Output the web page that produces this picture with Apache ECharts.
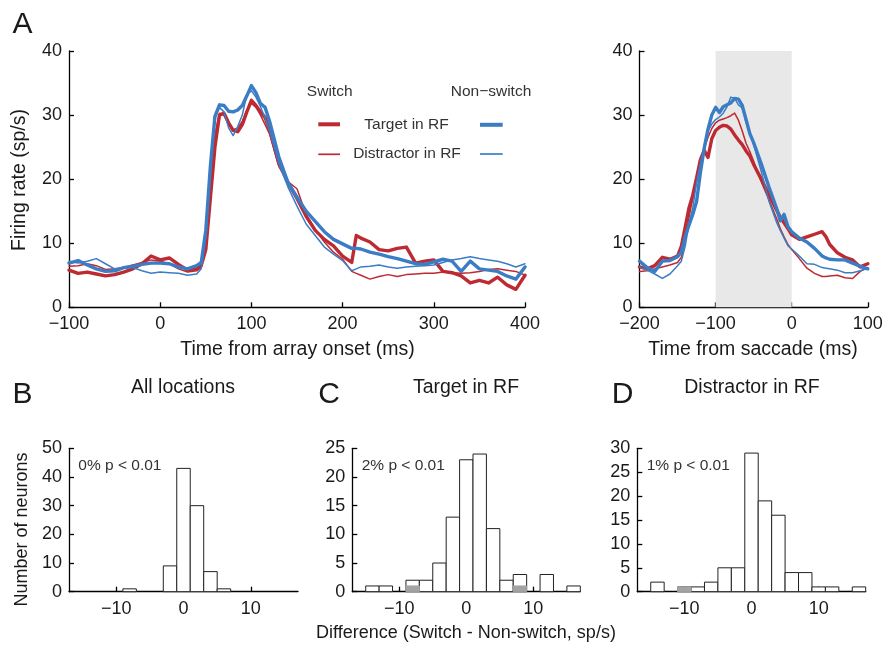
<!DOCTYPE html>
<html><head><meta charset="utf-8">
<script src="https://cdn.jsdelivr.net/npm/echarts@6/dist/echarts.min.js"></script>
<style>html,body{margin:0;padding:0;background:#fff}#c{width:883px;height:646px}</style>
</head><body><div id="c"></div>
<script>
// ---------- Panel A (left): time from array onset ----------
const tOnset = [-100,-90,-80,-70,-60,-50,-40,-30,-20,-10,0,10,20,30,40,45,50,55,60,65,70,75,80,85,90,95,100,105,110,115,120,130,140,150,160,170,180,190,200,210,215,220,230,240,250,260,270,280,290,300,310,320,330,340,350,360,370,380,390,400];
const onsetSwitchTarget = [5.8,5.3,5.5,5.2,4.9,5.1,5.5,6.0,6.8,8.0,7.4,7.7,6.7,5.8,6.0,6.5,9.0,17.0,25.0,30.0,30.3,28.8,27.6,27.4,28.5,30.5,32.3,31.5,30.5,29.6,27.7,22.5,19.5,17.0,14.2,12.0,10.6,9.6,8.0,7.0,11.2,10.8,10.2,9.0,8.8,9.2,9.4,6.9,7.2,7.4,5.6,5.4,4.9,3.8,4.2,3.8,4.7,3.5,2.8,5.0];
const onsetSwitchDistr = [6.4,6.5,6.8,6.5,5.9,6.0,6.2,6.6,7.0,7.4,7.2,6.8,6.0,5.5,5.7,6.2,10.0,19.0,27.0,30.3,30.0,28.5,27.7,28.0,29.0,30.8,31.8,31.2,30.0,28.5,27.0,22.0,19.6,18.5,14.5,12.2,10.2,8.6,7.5,5.6,5.3,5.0,4.4,4.8,5.1,4.8,5.1,5.2,5.3,5.3,5.5,5.4,5.3,5.4,5.6,5.9,6.0,5.8,5.6,5.0];
const onsetNonTarget = [6.9,7.3,6.6,6.0,5.6,5.7,6.2,6.4,6.7,6.9,6.9,6.8,6.3,6.0,6.5,7.0,12.0,22.0,29.8,31.6,31.5,30.6,30.5,30.8,31.5,33.0,34.6,33.5,31.8,31.2,29.0,23.5,19.5,17.2,15.0,13.4,11.8,10.6,9.9,9.2,9.2,9.1,8.6,8.3,7.9,7.6,7.2,6.8,6.7,7.1,7.5,7.2,5.6,7.2,6.0,5.8,5.6,4.9,4.4,6.3];
const onsetNonDistr = [7.2,6.9,7.2,7.6,6.8,6.0,6.1,6.2,5.7,5.3,5.5,5.4,5.3,5.0,5.2,6.0,11.0,21.0,29.5,31.2,30.5,28.0,26.8,28.2,30.0,33.2,33.8,32.8,31.3,29.5,27.5,22.5,18.8,15.8,13.0,11.2,9.4,8.3,7.3,5.7,6.0,6.3,6.4,6.6,6.3,6.1,6.3,6.4,6.5,6.6,7.0,7.4,7.6,7.9,7.6,7.4,7.2,6.8,6.3,6.8];

// ---------- Panel A (right): time from saccade ----------
const tSacc = [-200,-190,-180,-170,-160,-150,-145,-140,-135,-130,-125,-120,-115,-110,-105,-100,-95,-90,-85,-80,-75,-70,-65,-60,-55,-50,-40,-30,-20,-15,-10,-5,0,10,20,30,40,45,50,60,70,80,90,100];
const saccSwitchTarget = [6.3,6.0,6.5,7.8,7.5,8.0,9.5,12.5,15.5,17.5,20.2,23.0,24.5,23.4,26.3,27.6,28.1,28.4,28.3,27.8,26.9,26.1,25.4,24.4,23.6,22.3,20.0,17.6,15.2,14.1,13.2,12.3,11.3,10.6,11.0,11.4,11.8,11.0,9.8,8.5,7.8,7.4,6.3,6.8];
const saccSwitchDistr = [5.6,5.7,6.0,6.3,6.6,7.0,7.8,10.5,14.0,17.0,19.9,22.2,24.8,26.5,27.9,28.8,29.2,29.4,29.6,29.9,30.3,29.2,27.5,25.6,24.3,22.8,19.6,16.8,13.9,12.3,11.0,9.8,9.0,7.6,6.1,5.3,4.8,4.8,4.9,5.0,4.6,4.5,5.6,6.2];
const saccNonTarget = [7.2,6.2,5.6,7.2,7.3,7.9,8.6,11.0,12.8,14.5,16.5,21.0,24.8,27.8,30.0,31.2,30.4,31.3,31.6,31.9,32.6,32.5,31.5,29.3,27.1,25.7,22.4,18.8,15.5,13.5,14.5,12.6,11.8,10.8,10.2,9.2,8.0,7.7,7.5,7.4,7.4,6.9,6.4,6.0];
const saccNonDistr = [6.3,5.8,5.2,4.5,5.2,6.5,7.2,9.5,13.0,15.5,19.5,22.5,24.8,27.5,28.6,29.3,29.7,30.3,31.3,32.8,32.6,31.6,31.1,28.9,27.0,25.4,21.2,16.6,13.3,12.0,10.8,9.6,9.1,8.0,6.8,6.7,6.2,6.1,6.0,5.8,5.4,5.4,5.7,6.1];
const saccWindow = [-100, 0];

// ---------- Histograms (bin centres, bin width 2) ----------
const binWidth = 2;
const binsAll = [-8,-2,0,2,4,6];
const countsAll = [1,9,43,30,7,1];
const binsTarget = [-14,-12,-8,-6,-4,-2,0,2,4,6,8,12,16];
const countsTarget = [1,1,2,2,5,13,23,24,11,2,3,3,1];
const sigTargetBins = [-8,8];
const sigTargetCounts = [1,1];
const binsDistr = [-14,-10,-8,-6,-4,-2,0,2,4,6,8,10,12,16];
const countsDistr = [2,1,1,2,5,5,29,19,16,4,4,1,1,1];
const sigDistrBins = [-10];
const sigDistrCounts = [1];
const histXTicks = [-10,0,10];

const RED = '#be2a31', BLUE = '#3b7dc5';
const FONT = '"Liberation Sans", Arial, Helvetica, sans-serif';
const TXT = '#1a1a1a';
const fmt = v => String(v).replace('-', '\u2212');
const zip = (xs, ys) => xs.map((x, i) => [x, ys[i]]);

const axisCommon = {
  axisLine: {show: true, onZero: false, lineStyle: {color: '#000', width: 1.3}},
  axisTick: {show: true, inside: true, length: 5, lineStyle: {color: '#000', width: 1.3}},
  splitLine: {show: false},
  axisLabel: {color: TXT, fontSize: 18, fontFamily: FONT, margin: 8, showMinLabel: true, showMaxLabel: true}
};
function xAx(grid, min, max, interval, custom) {
  const a = Object.assign({type: 'value', gridIndex: grid, min, max, interval}, JSON.parse(JSON.stringify(axisCommon)));
  a.axisLabel.formatter = fmt;
  if (custom) { a.axisTick.customValues = custom; a.axisLabel.customValues = custom; delete a.interval; }
  return a;
}
function yAx(grid, min, max, interval) {
  const a = Object.assign({type: 'value', gridIndex: grid, min, max, interval}, JSON.parse(JSON.stringify(axisCommon)));
  a.axisLabel.formatter = fmt;
  a.axisLabel.margin = 7;
  return a;
}

function lineSeries(name, x, y, xi, color, width) {
  return {type: 'line', name, xAxisIndex: xi, yAxisIndex: xi, data: zip(x, y), showSymbol: false, symbol: 'none',
    lineStyle: {color, width, cap: 'round', join: 'round'}, itemStyle: {color}, silent: true, animation: false, z: 3};
}
function histSeries(xi, bins, counts, fill, stroke) {
  return {type: 'custom', xAxisIndex: xi, yAxisIndex: xi, data: zip(bins, counts), encode: {x: 0, y: 1}, silent: true, animation: false, z: 3,
    renderItem: (params, api) => {
      const c = api.value(0), n = api.value(1);
      const p0 = api.coord([c - binWidth / 2, n]);
      const p1 = api.coord([c + binWidth / 2, 0]);
      return {type: 'rect', shape: {x: p0[0], y: p0[1], width: p1[0] - p0[0], height: p1[1] - p0[1]},
        style: {fill, stroke, lineWidth: 1}};
    }};
}

function txt(text, x, y, size, extra) {
  return {type: 'text', x, y, silent: true, z: 10, rotation: (extra && extra.rotation) || 0,
    style: {text, fontSize: size, fontFamily: FONT, fill: (extra && extra.fill) || TXT,
      align: (extra && extra.align) || 'center', verticalAlign: 'middle'}};
}
function seg(x1, x2, y, color, w) {
  return {type: 'line', shape: {x1, y1: y, x2, y2: y}, style: {stroke: color, lineWidth: w}, silent: true, z: 10};
}

const chart = echarts.init(document.getElementById('c'), null, {renderer: 'canvas'});
chart.setOption({
  backgroundColor: '#fff',
  animation: false,
  grid: [
    {left: 69, top: 51, width: 456, height: 256.3, outerBoundsMode: 'none'},
    {left: 639.5, top: 51, width: 228.3, height: 256.3, outerBoundsMode: 'none'},
    {left: 69, top: 448.3, width: 229, height: 143.4, outerBoundsMode: 'none'},
    {left: 352.3, top: 448.3, width: 228, height: 143.4, outerBoundsMode: 'none'},
    {left: 637.3, top: 448.3, width: 228.4, height: 143.4, outerBoundsMode: 'none'}
  ],
  xAxis: [
    xAx(0, -100, 400, 100),
    xAx(1, -200, 100, 100),
    xAx(2, -17, 17, 10, histXTicks),
    xAx(3, -17, 17, 10, histXTicks),
    xAx(4, -17, 17, 10, histXTicks)
  ],
  yAxis: [
    yAx(0, 0, 40, 10),
    yAx(1, 0, 40, 10),
    yAx(2, 0, 50, 10),
    yAx(3, 0, 25, 5),
    yAx(4, 0, 30, 5)
  ],
  series: [
    {type: 'line', xAxisIndex: 1, yAxisIndex: 1, data: [[saccWindow[0], 0]], showSymbol: false, lineStyle: {opacity: 0}, silent: true, z: 1,
      markArea: {silent: true, itemStyle: {color: '#e8e8e8'}, data: [[{xAxis: saccWindow[0]}, {xAxis: saccWindow[1]}]]}},
    lineSeries('Switch target', tOnset, onsetSwitchTarget, 0, RED, 3.4),
    lineSeries('Switch distractor', tOnset, onsetSwitchDistr, 0, RED, 1.5),
    lineSeries('Non-switch distractor', tOnset, onsetNonDistr, 0, BLUE, 1.5),
    lineSeries('Non-switch target', tOnset, onsetNonTarget, 0, BLUE, 3.4),
    lineSeries('Switch target', tSacc, saccSwitchTarget, 1, RED, 3.4),
    lineSeries('Switch distractor', tSacc, saccSwitchDistr, 1, RED, 1.5),
    lineSeries('Non-switch distractor', tSacc, saccNonDistr, 1, BLUE, 1.5),
    lineSeries('Non-switch target', tSacc, saccNonTarget, 1, BLUE, 3.4),
    histSeries(2, binsAll, countsAll, '#fff', '#222'),
    histSeries(3, binsTarget, countsTarget, '#fff', '#222'),
    histSeries(3, sigTargetBins, sigTargetCounts, '#a3a3a3', '#a3a3a3'),
    histSeries(4, binsDistr, countsDistr, '#fff', '#222'),
    histSeries(4, sigDistrBins, sigDistrCounts, '#a3a3a3', '#a3a3a3')
  ],
  graphic: [
    txt('A', 22.5, 24.5, 30),
    txt('B', 22.5, 395, 30),
    txt('C', 329, 395, 30),
    txt('D', 622.5, 395, 30),
    txt('Firing rate (sp/s)', 19.5, 180, 19.5, {rotation: Math.PI / 2}),
    txt('Time from array onset (ms)', 297.5, 350, 19.5),
    txt('Time from saccade (ms)', 753, 350, 19.5),
    txt('Number of neurons', 22, 529.5, 18, {rotation: Math.PI / 2}),
    txt('Difference (Switch - Non-switch, sp/s)', 466, 633, 18),
    txt('All locations', 183, 388, 19.5),
    txt('Target in RF', 466, 388, 19.5),
    txt('Distractor in RF', 752, 388, 19.5),
    txt('0% p < 0.01', 78.3, 465.5, 15.5, {align: 'left', fill: '#333'}),
    txt('2% p < 0.01', 361.7, 465.5, 15.5, {align: 'left', fill: '#333'}),
    txt('1% p < 0.01', 646.7, 465.5, 15.5, {align: 'left', fill: '#333'}),
    txt('Switch', 329.7, 91.7, 15.5, {fill: '#333'}),
    txt('Non\u2212switch', 491, 91.7, 15.5, {fill: '#333'}),
    txt('Target in RF', 406.5, 124.5, 15.5, {fill: '#333'}),
    txt('Distractor in RF', 407, 153.5, 15.5, {fill: '#333'}),
    seg(318.3, 340, 124.3, RED, 4),
    seg(480, 502.7, 124.8, BLUE, 4),
    seg(318.3, 340, 154.3, RED, 1.7),
    seg(480, 502.7, 154, BLUE, 1.7)
  ]
});
</script></body></html>
